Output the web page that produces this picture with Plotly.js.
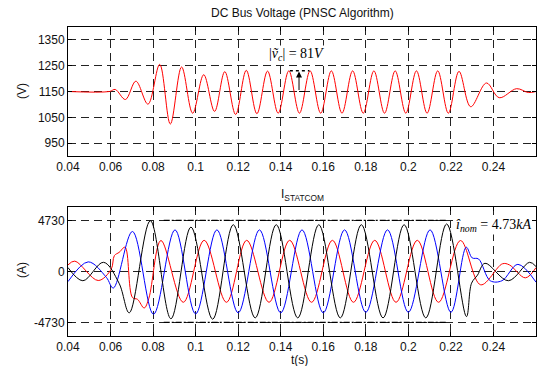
<!DOCTYPE html>
<html>
<head>
<meta charset="utf-8">
<script src="https://cdn.plot.ly/plotly-3.0.1.min.js"></script>
<style>html,body{margin:0;padding:0;background:#fff}#chart{width:542px;height:366px}</style>
</head>
<body>
<div id="chart"></div>
<script>
// ---- Data ----
const xTicks = [0.04, 0.06, 0.08, 0.1, 0.12, 0.14, 0.16, 0.18, 0.2, 0.22, 0.24];
const xTickText = ['0.04','0.06','0.08','0.1','0.12','0.14','0.16','0.18','0.2','0.22','0.24'];
const vTicks = [950, 1050, 1150, 1250, 1350];
const iTicks = [-4730, 0, 4730];
const iTickText = ['-4730', '0', '4730'];

// DC bus voltage (V) - extremes of the oscillation
const tVolt = [0.040, 0.0595, 0.0622, 0.0670, 0.0719, 0.0776, 0.0831, 0.0881, 0.0934, 0.0986, 0.1038, 0.1089,
  0.1137, 0.1188, 0.1238, 0.1288, 0.1338, 0.1388, 0.1438, 0.1488, 0.1538, 0.1588, 0.1638, 0.1688,
  0.1738, 0.1788, 0.1838, 0.1888, 0.1938, 0.1988, 0.2038, 0.2088, 0.2138, 0.2188, 0.2238, 0.2293,
  0.2367, 0.2427, 0.2509, 0.2564, 0.2600];
const vDC = [1150, 1150, 1158, 1119, 1190, 1101, 1255, 1024, 1245, 1066, 1215, 1073,
  1227, 1061, 1232, 1064, 1229, 1066, 1230, 1066, 1230, 1066, 1230, 1066,
  1230, 1066, 1230, 1066, 1230, 1066, 1230, 1066, 1230, 1066, 1228, 1091,
  1183, 1126, 1161, 1146, 1150];

// STATCOM phase currents (A)
const tRed = [0.0400, 0.0432, 0.0542, 0.0603, 0.0618, 0.0641, 0.0668, 0.0703, 0.0727, 0.0758, 0.0780,
  0.0837, 0.0942, 0.1040, 0.1145, 0.1240, 0.1345, 0.1442, 0.1545, 0.1643, 0.1742, 0.1842, 0.1942,
  0.2042, 0.2142, 0.2245, 0.2340, 0.2442, 0.2475, 0.2550, 0.2600];
const iRed = [600, 950, -850, 200, 1460, 1770, 2240, -2430, -2600, -3400, -2500,
  2860, -2870, 2880, -2870, 2880, -2870, 2880, -2870, 2880, -2870, 2880, -2870,
  2880, -2870, 2860, -1250, 700, 600, -600, 350];

const tBlue = [0.0400, 0.0495, 0.0580, 0.0613, 0.0703, 0.0802, 0.0903, 0.1000, 0.1100, 0.1200, 0.1300,
  0.1400, 0.1500, 0.1600, 0.1700, 0.1800, 0.1902, 0.2000, 0.2102, 0.2200, 0.2272, 0.2300, 0.2330,
  0.2385, 0.2440, 0.2515, 0.2600];
const iBlue = [-950, 880, -550, -1550, 3700, -3980, 3850, -3950, 3850, -3850, 3850,
  -3850, 3850, -3850, 3850, -3800, 3850, -3800, 3850, -3800, 2240, 1250, 1150,
  -870, -870, 650, -1000];

const tBlack = [0.0400, 0.0470, 0.0567, 0.0640, 0.0688, 0.0787, 0.0884, 0.0978, 0.1080, 0.1177, 0.1280,
  0.1379, 0.1480, 0.1579, 0.1680, 0.1779, 0.1881, 0.1980, 0.2082, 0.2180, 0.2273, 0.2297, 0.2325,
  0.2360, 0.2470, 0.2570, 0.2600];
const iBlack = [350, -870, 840, -1100, -3850, 4700, -4400, 4110, -4440, 4330, -4320,
  4330, -4320, 4330, -4320, 4330, -4320, 4330, -4320, 4400, -4200, -1100, -350,
  750, -870, 840, 450];

// ---- Chart ----
const sans = 'Liberation Sans, Arial, Helvetica, sans-serif';
const serif = 'Liberation Serif, Times New Roman, serif';

const traces = [
  {x: tVolt, y: vDC, xaxis: 'x', yaxis: 'y', mode: 'lines', line: {color: '#ff0000', width: 1, shape: 'spline'}},
  {x: tRed, y: iRed, xaxis: 'x2', yaxis: 'y2', mode: 'lines', line: {color: '#ff0000', width: 1, shape: 'spline'}},
  {x: tBlue, y: iBlue, xaxis: 'x2', yaxis: 'y2', mode: 'lines', line: {color: '#0000ff', width: 1, shape: 'spline'}},
  {x: tBlack, y: iBlack, xaxis: 'x2', yaxis: 'y2', mode: 'lines', line: {color: '#000000', width: 1, shape: 'spline'}}
];

const axisCommon = {
  showline: true, linecolor: '#000', linewidth: 1, mirror: 'ticks',
  ticks: 'inside', ticklen: 4, tickcolor: '#000',
  showgrid: true, gridcolor: '#222', gridwidth: 1, griddash: '8px,5px',
  zeroline: false, tickfont: {family: sans, size: 12, color: '#111'}
};

const layout = {
  width: 542, height: 366,
  margin: {l: 68, r: 6, t: 27, b: 30},
  paper_bgcolor: '#fff', plot_bgcolor: '#fff',
  showlegend: false,
  xaxis: Object.assign({}, axisCommon, {domain: [0, 1], anchor: 'y', range: [0.04, 0.26], tickmode: 'array', tickvals: xTicks, ticktext: xTickText}),
  yaxis: Object.assign({}, axisCommon, {domain: [0.5825, 1], anchor: 'x', range: [900, 1400], tickmode: 'array', tickvals: vTicks}),
  xaxis2: Object.assign({}, axisCommon, {domain: [0, 1], anchor: 'y2', range: [0.04, 0.26], tickmode: 'array', tickvals: xTicks, ticktext: xTickText}),
  yaxis2: Object.assign({}, axisCommon, {domain: [0, 0.4184], anchor: 'x2', range: [-6000, 6000], tickmode: 'array', tickvals: iTicks, ticktext: iTickText}),
  shapes: [
    {type: 'line', xref: 'x', yref: 'y', x0: 0.1443, x1: 0.1535, y0: 1230, y1: 1230, line: {color: '#000', width: 1.5, dash: 'dot'}},
    {type: 'line', xref: 'x', yref: 'y', x0: 0.1486, x1: 0.1515, y0: 1150, y1: 1150, line: {color: '#000', width: 1}},
    {type: 'line', xref: 'x2', yref: 'y2', x0: 0.085, x1: 0.218, y0: 4730, y1: 4730, line: {color: '#000', width: 1.2, dash: '6px,2px,2px,2px'}},
    {type: 'line', xref: 'x2', yref: 'y2', x0: 0.085, x1: 0.218, y0: -4730, y1: -4730, line: {color: '#000', width: 1.2, dash: '6px,2px,2px,2px'}}
  ],
  annotations: [
    {text: 'DC Bus Voltage (PNSC Algorithm)', xref: 'paper', yref: 'paper', x: 0.5, y: 1.0453, xanchor: 'center', yanchor: 'middle', showarrow: false, font: {family: sans, size: 12, color: '#111'}},
    {text: 'I<sub>STATCOM</sub>', xref: 'paper', yref: 'paper', x: 0.5, y: 0.4563, xanchor: 'center', yanchor: 'middle', showarrow: false, font: {family: sans, size: 12, color: '#111'}},
    {text: '(V)', xref: 'paper', yref: 'paper', x: -0.0983, y: 0.7929, textangle: -90, xanchor: 'center', yanchor: 'middle', showarrow: false, font: {family: sans, size: 12, color: '#111'}},
    {text: '(A)', xref: 'paper', yref: 'paper', x: -0.0983, y: 0.2136, textangle: -90, xanchor: 'center', yanchor: 'middle', showarrow: false, font: {family: sans, size: 12, color: '#111'}},
    {text: 't(s)', xref: 'paper', yref: 'paper', x: 0.4957, y: -0.0777, xanchor: 'center', yanchor: 'middle', showarrow: false, font: {family: sans, size: 12, color: '#111'}},
    {text: '|<i>ṽ</i><sub><i>c</i></sub>| = 81<i>V</i>', xref: 'x', yref: 'y', x: 0.1472, y: 1292, xanchor: 'center', yanchor: 'middle', showarrow: false, bgcolor: '#fff', borderpad: 0, font: {family: serif, size: 14, color: '#000'}},
    {text: '<i>î</i><sub><i>nom</i></sub> = 4.73<i>kA</i>', xref: 'x2', yref: 'y2', x: 0.2400, y: 4250, xanchor: 'center', yanchor: 'middle', showarrow: false, bgcolor: '#fff', borderpad: 0, font: {family: serif, size: 14, color: '#000'}},
    {text: '', xref: 'x', yref: 'y', x: 0.1486, y: 1228, ax: 0.1486, ay: 1150, axref: 'x', ayref: 'y', showarrow: true, arrowhead: 2, arrowsize: 1.2, arrowwidth: 1, arrowcolor: '#000'}
  ]
};

Plotly.newPlot('chart', traces, layout, {displayModeBar: false, staticPlot: true});
</script>
</body>
</html>
